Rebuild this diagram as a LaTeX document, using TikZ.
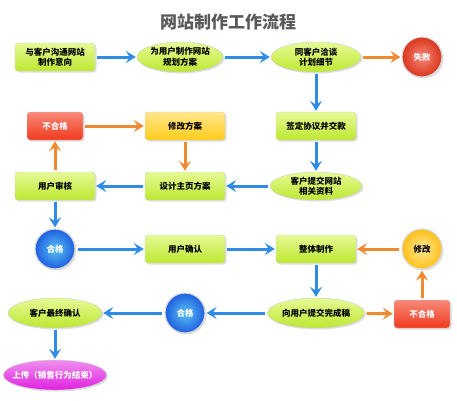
\documentclass[tikz,border=0pt]{standalone}
\usepackage{fontspec}
\setmainfont{Noto Sans CJK SC}
\usetikzlibrary{shapes,arrows.meta,shadows}
\definecolor{leaf}{HTML}{BDE830}
\definecolor{leaftop}{HTML}{E6FA96}
\definecolor{flowblue}{HTML}{2E8BE6}
\definecolor{fixorange}{HTML}{F08A32}
\definecolor{warnred}{HTML}{F23A1E}
\definecolor{sunny}{HTML}{FFCC1A}
\definecolor{okblue}{HTML}{1F5FE0}
\definecolor{pinkend}{HTML}{E020E0}
\tikzset{
  >={Stealth[length=10pt,width=12pt,inset=4pt]},
  every node/.style={font=\fontsize{8.5}{10.5}\selectfont\bfseries, align=center},
  shade/.style={drop shadow={opacity=0.25,shadow xshift=1.5pt,shadow yshift=-1.5pt}},
  stepbox/.style={rectangle, rounded corners=3pt, draw=black!20, shade,
                  top color=leaftop, bottom color=leaf, minimum width=80pt, minimum height=28pt},
  ovalbox/.style={ellipse, draw=black!20, shade, top color=leaftop, bottom color=leaf,
                  inner xsep=-6pt, inner ysep=-2pt, minimum width=90pt, minimum height=30pt},
  failbox/.style={stepbox, top color=warnred!60!white, bottom color=warnred, text=white,
                  minimum width=56pt},
  fixbox/.style={stepbox, top color=sunny!50!white, bottom color=sunny},
  dot/.style={circle, draw=black!15, line width=1.2pt, shade, minimum size=40pt, inner sep=0pt},
  okdot/.style={dot, inner color=okblue!55!cyan!70!white, outer color=okblue, text=white},
  faildot/.style={dot, inner color=warnred!60!white, outer color=warnred!90!black, text=white},
  fixdot/.style={dot, inner color=sunny!45!white, outer color=sunny!85!orange},
  endbox/.style={ovalbox, top color=pinkend!50!white, bottom color=pinkend, text=white,
                 minimum width=94pt},
  flow/.style={draw=flowblue, line width=3pt, ->, shorten >=1pt, shorten <=2pt},
  back/.style={flow, draw=fixorange}
}

\begin{document}
\begin{tikzpicture}[x=1pt,y=-1pt]
  \useasboundingbox (0,0) rectangle (457,400);

  % Title.
  \node[font=\fontsize{17}{20}\selectfont\bfseries, text=black!65] (title) at (228,22) {网站制作工作流程};

  % First row.
  \node[stepbox] (intent) at (55,57) {与客户沟通网站\\制作意向};
  \node[ovalbox, minimum width=86pt] (plan) at (180,57) {为用户制作网站\\规划方案};
  \node[ovalbox] (talk) at (316,57) {同客户洽谈\\计划细节};
  \node[faildot] (lost) at (422,57) {失败};

  % Second row.
  \node[failbox] (reject) at (55,126) {不合格};
  \node[fixbox] (rework) at (185,126) {修改方案};
  \node[stepbox] (sign) at (316,126) {签定协议并交款};

  % Third row.
  \node[stepbox] (review) at (55,186) {用户审核};
  \node[stepbox] (design) at (185,186) {设计主页方案};
  \node[ovalbox, minimum width=92pt, minimum height=28pt] (data) at (316,186) {客户提交网站\\相关资料};

  % Fourth row.
  \node[okdot] (pass) at (55,249) {合格};
  \node[stepbox] (confirm) at (185,249) {用户确认};
  \node[stepbox] (build) at (316,249) {整体制作};
  \node[fixdot] (fix) at (422,249) {修改};

  % Fifth row.
  \node[ovalbox, minimum width=94pt] (final) at (55,313) {客户最终确认};
  \node[okdot] (accept) at (185,313) {合格};
  \node[ovalbox, minimum width=97pt] (submit) at (316,313) {向用户提交完成稿};
  \node[failbox] (refuse) at (422,314) {不合格};

  % Last step.
  \node[endbox] (upload) at (55,375) {上传（销售行为结束）};

  % Main flow.
  \draw[flow] (intent) -- (plan);
  \draw[flow] (plan) -- (talk);
  \draw[flow] (talk) -- (sign);
  \draw[flow] (sign) -- (data);
  \draw[flow] (data) -- (design);
  \draw[flow] (design) -- (review);
  \draw[flow] (review) -- (pass);
  \draw[flow] (pass) -- (confirm);
  \draw[flow] (confirm) -- (build);
  \draw[flow] (build) -- (submit);
  \draw[flow] (submit) -- (accept);
  \draw[flow] (accept) -- (final);
  \draw[flow] (final) -- (upload);

  % Rework loops.
  \draw[back] (talk) -- (lost);
  \draw[back] (review) -- (reject);
  \draw[back] (reject) -- (rework);
  \draw[back] (rework) -- (design);
  \draw[back] (submit) -- (refuse);
  \draw[back] (refuse) -- (fix);
  \draw[back] (fix) -- (build);
\end{tikzpicture}
\end{document}
